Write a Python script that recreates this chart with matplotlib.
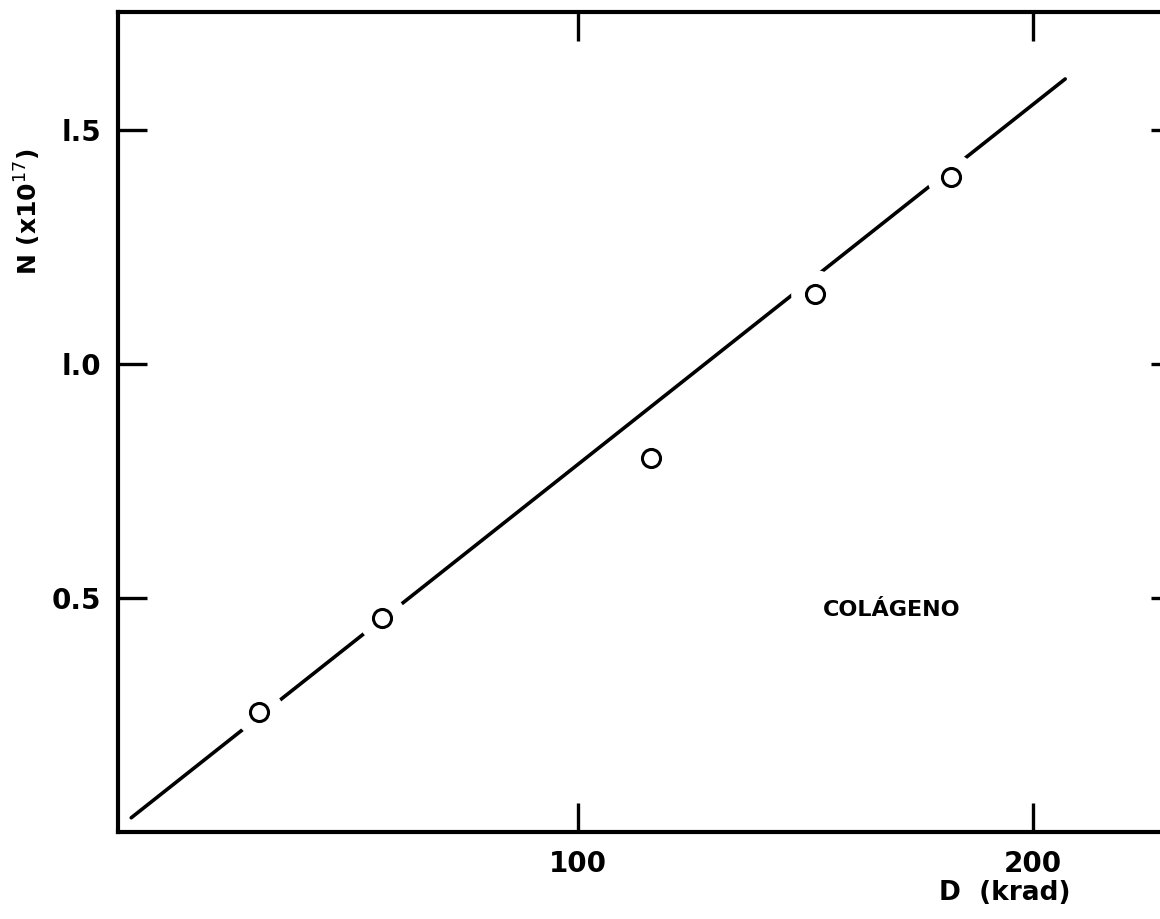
import numpy as np
import matplotlib
matplotlib.use("Agg")
from matplotlib import pyplot as plt

# dose (krad) and number of events N (x10^17) for collagen
dose = [30, 57, 116, 152, 182]
n_events = [0.256, 0.457, 0.80, 1.15, 1.40]

# fitted straight line
fit_d = [2, 207]
fit_slope = 0.0077
fit_icpt = 0.015

xticks = [100, 200]
yticks = [0.5, 1.0, 1.5]
ytick_labels = ["0.5", "l.0", "l.5"]

plt.rcParams['font.family'] = ['DejaVu Sans']

fig = plt.figure(figsize=(11.6, 9.19), dpi=100)
# right spine sits just past the edge of the page
ax = fig.add_axes([118 / 1160, 1 - 832 / 919, 1062 / 1160, 820 / 919])

ax.set_xlim(-0.9, 232.2)
ax.set_ylim(0, 1.752)

fd = np.array(fit_d, dtype=float)
ax.plot(fd, fit_slope * fd + fit_icpt, color='black', lw=2.6,
        solid_capstyle='round', zorder=2)

# white halo breaks the line around each point
ax.plot(dose, n_events, 'o', ms=34, mfc='white', mec='white', zorder=3)
ax.plot(dose, n_events, 'o', ms=13, mfc='white', mec='black', mew=2.2, zorder=4)

for s in ax.spines.values():
    s.set_linewidth(3)

ax.set_xticks(xticks)
ax.set_xticklabels([str(t) for t in xticks], fontweight='bold')
ax.set_yticks(yticks)
ax.set_yticklabels(ytick_labels, fontweight='bold')
ax.tick_params(direction='in', length=21, width=2.4, labelsize=20,
               top=True, right=True, pad=12)
ax.tick_params(axis='x', pad=13)

ax.text(169, 0.475, "COLÁGENO", fontsize=16, fontweight='bold',
        ha='center', va='center')
fig.text(1005 / 1160, 1 - 893 / 919, "D  (krad)", fontsize=19,
         ha='center', va='center', fontweight='bold')
fig.text(28 / 1160, 1 - 212 / 919, r"N (x10$^{17}$)", fontsize=18,
         fontweight='bold', rotation=90, ha='center', va='center')

fig.savefig("out.png", dpi=100, facecolor='white')
